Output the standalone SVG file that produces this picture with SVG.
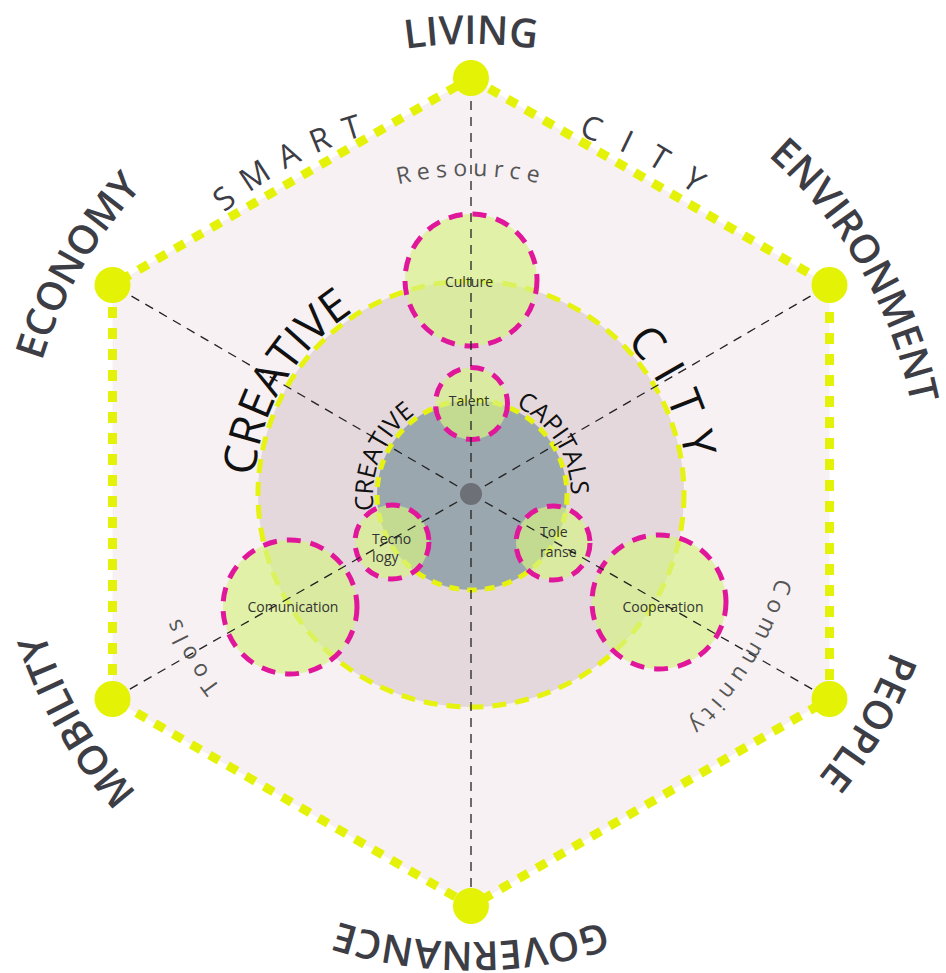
<svg xmlns="http://www.w3.org/2000/svg" width="946" height="973" viewBox="0 0 946 973">
<style>
.hex{fill:#f7f1f4;stroke:#e4f20a;stroke-width:9;stroke-dasharray:11 10}
.vdot{fill:#e4f205}
.ring{fill:#e4d8dc;stroke:#e6f20f;stroke-width:5;stroke-dasharray:14 9}
.core{fill:#9ba7ae;stroke:#e6f20f;stroke-width:5;stroke-dasharray:10 8}
.node{fill:#d6f183;fill-opacity:0.68;stroke:#e0179b;stroke-width:5;stroke-dasharray:14 10}
.axis{stroke:#222;stroke-width:1.3;stroke-dasharray:9 7;fill:none}
.outer{font-family:"Open Sans","Liberation Sans",sans-serif;font-weight:600;font-size:40px;fill:#3d3d45}
.mid{font-family:"Open Sans","Liberation Sans",sans-serif;font-size:32px;fill:#3d3d45}
.small{font-family:"Open Sans","Liberation Sans",sans-serif;font-size:23px;fill:#555;letter-spacing:6px}
.big{font-family:"Open Sans","Liberation Sans",sans-serif;font-size:45px;fill:#111}
.inner{font-family:"Open Sans","Liberation Sans",sans-serif;font-size:25px;fill:#111}
.lbl{font-family:"Open Sans","Liberation Sans",sans-serif;font-size:14px;fill:#333}
</style>
<defs>
<path id="pOuter" d="M22,493 A449,449 0 1 1 920,493 A449,449 0 1 1 22,493"/>
<path id="pMid" d="M98,493 A373,373 0 1 1 844,493 A373,373 0 1 1 98,493"/>
<path id="pSmall" d="M154,493 A317,317 0 1 1 788,493 A317,317 0 1 1 154,493"/>
<path id="pBig" d="M254,494 A217,217 0 1 1 688,494 A217,217 0 1 1 254,494"/>
<path id="pInner" d="M472,594 A99,99 0 1 1 472,396 A99,99 0 1 1 472,594"/>
</defs>
<rect width="946" height="973" fill="#ffffff"/>
<g id="hexagon">
<polygon class="hex" points="471,78 829.5,285 829.5,699 471,906 112.5,699 112.5,285"/>
</g>
<g id="creative-city">
<circle class="ring" cx="471" cy="494" r="213"/>
</g>
<g id="creative-capitals">
<circle class="core" cx="472" cy="495" r="95"/>
</g>
<g id="node-culture">
<circle class="node" cx="471" cy="280" r="66"/>
<text class="lbl" x="469" y="287" text-anchor="middle">Culture</text>
</g>
<g id="node-comunication">
<circle class="node" cx="290" cy="607" r="67"/>
<text class="lbl" x="293" y="612" text-anchor="middle">Comunication</text>
</g>
<g id="node-cooperation">
<circle class="node" cx="659" cy="602" r="67"/>
<text class="lbl" x="663" y="612" text-anchor="middle">Cooperation</text>
</g>
<g id="node-talent">
<circle class="node" cx="471.5" cy="403.5" r="36"/>
<text class="lbl" x="469" y="406" text-anchor="middle">Talent</text>
</g>
<g id="node-tecnology">
<circle class="node" cx="392" cy="542" r="37"/>
<text class="lbl" x="372" y="544">Tecno</text>
<text class="lbl" x="372" y="562">logy</text>
</g>
<g id="node-tolerance">
<circle class="node" cx="553" cy="543" r="37"/>
<text class="lbl" x="540" y="537">Tole</text>
<text class="lbl" x="540" y="557">ranse</text>
</g>
<g id="connectors">
<line class="axis" x1="471" y1="494" x2="471" y2="78"/>
<line class="axis" x1="471" y1="494" x2="829.5" y2="285"/>
<line class="axis" x1="471" y1="494" x2="829.5" y2="699"/>
<line class="axis" x1="471" y1="494" x2="471" y2="906"/>
<line class="axis" x1="471" y1="494" x2="112.5" y2="699"/>
<line class="axis" x1="471" y1="494" x2="112.5" y2="285"/>
</g>
<g id="vertices">
<circle class="vdot" cx="471" cy="78" r="18"/>
<circle class="vdot" cx="829.5" cy="285" r="18"/>
<circle class="vdot" cx="829.5" cy="699" r="18"/>
<circle class="vdot" cx="471" cy="906" r="18"/>
<circle class="vdot" cx="112.5" cy="699" r="18"/>
<circle class="vdot" cx="112.5" cy="285" r="18"/>
</g>
<circle cx="471" cy="494" r="11" fill="#6d7077"/>
<g id="outer-labels">
<text class="outer" text-anchor="middle"><textPath href="#pOuter" startOffset="8.333%">ECONOMY</textPath></text>
<text class="outer" text-anchor="middle"><textPath href="#pOuter" startOffset="25%">LIVING</textPath></text>
<text class="outer" text-anchor="middle"><textPath href="#pOuter" startOffset="41.667%">ENVIRONMENT</textPath></text>
<text class="outer" text-anchor="middle"><textPath href="#pOuter" startOffset="58.333%">PEOPLE</textPath></text>
<text class="outer" text-anchor="middle"><textPath href="#pOuter" startOffset="75%">GOVERNANCE</textPath></text>
<text class="outer" text-anchor="middle"><textPath href="#pOuter" startOffset="91.667%">MOBILITY</textPath></text>
</g>
<g id="smart-city-labels">
<text class="mid" text-anchor="middle" letter-spacing="14"><textPath href="#pMid" startOffset="17.22%">SMART</textPath></text>
<text class="mid" text-anchor="middle" letter-spacing="22"><textPath href="#pMid" startOffset="32.9%">CITY</textPath></text>
</g>
<g id="axis-labels">
<text class="small" text-anchor="middle"><textPath href="#pSmall" startOffset="25%">Resource</textPath></text>
<text class="small" text-anchor="middle"><textPath href="#pSmall" startOffset="58.8%">Community</textPath></text>
<text class="small" text-anchor="middle"><textPath href="#pSmall" startOffset="91.67%">Tools</textPath></text>
</g>
<g id="creative-city-labels">
<text class="big" text-anchor="middle"><textPath href="#pBig" startOffset="8.6%">CREATIVE</textPath></text>
<text class="big" text-anchor="middle" letter-spacing="14"><textPath href="#pBig" startOffset="43%">CITY</textPath></text>
</g>
<g id="creative-capitals-labels">
<text class="inner" text-anchor="middle"><textPath href="#pInner" startOffset="31.4%">CREATIVE</textPath></text>
<text class="inner" text-anchor="middle"><textPath href="#pInner" startOffset="66.1%">CAPITALS</textPath></text>
</g>
</svg>
